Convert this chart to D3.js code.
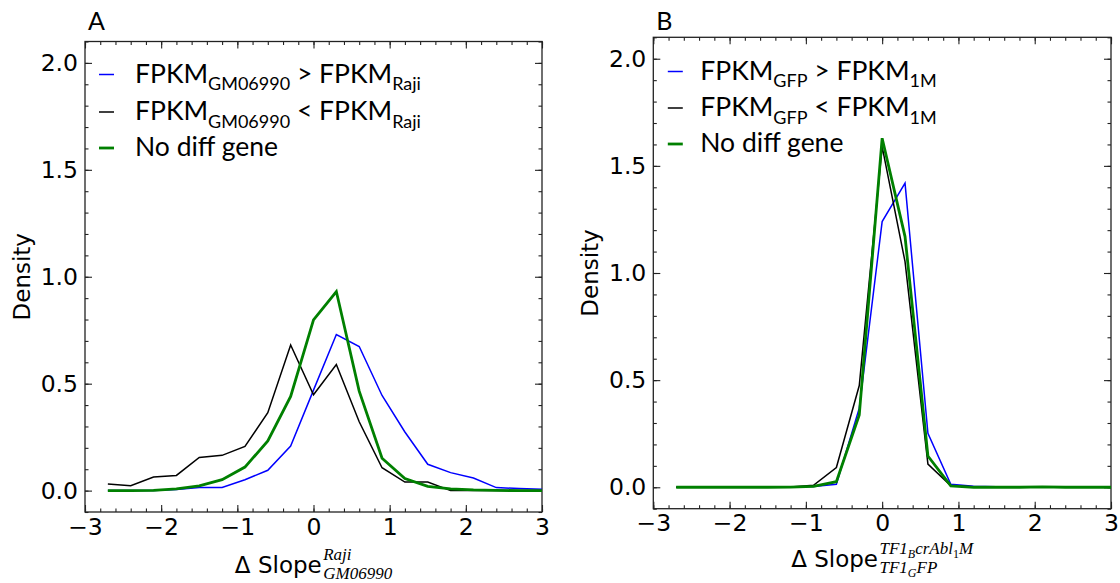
<!DOCTYPE html>
<html>
<head>
<meta charset="utf-8">
<script src="https://cdn.jsdelivr.net/npm/d3@7"></script>
<style>
  body { margin: 0; background: #fff; }
  svg { display: block; }
</style>
</head>
<body>
<svg id="chart" width="1120" height="583"></svg>
<script>
// ---- data: density of slope differences, binned every 0.3 ----
const slopeBins = [-2.7, -2.4, -2.1, -1.8, -1.5, -1.2, -0.9, -0.6, -0.3, 0.0,
                   0.3, 0.6, 0.9, 1.2, 1.5, 1.8, 2.1, 2.4, 2.7, 3.0];

// Panel A: GM06990 vs Raji
const gmHigher = [0.000, 0.000, 0.000, 0.005, 0.015, 0.015, 0.051, 0.095, 0.208, 0.470,
                  0.730, 0.674, 0.445, 0.274, 0.123, 0.084, 0.059, 0.014, 0.010, 0.006];
const gmLower  = [0.031, 0.023, 0.064, 0.071, 0.155, 0.165, 0.207, 0.364, 0.681, 0.448,
                  0.590, 0.322, 0.107, 0.040, 0.040, 0.000, 0.000, 0.000, 0.000, 0.000];
const gmNoDiff = [0.000, 0.000, 0.001, 0.008, 0.022, 0.051, 0.110, 0.232, 0.440, 0.798,
                  0.931, 0.465, 0.151, 0.056, 0.020, 0.008, 0.003, 0.001, 0.000, 0.000];

// Panel B: GFP vs 1M
const gfpHigher = [0.000, 0.000, 0.000, 0.000, 0.000, 0.002, 0.004, 0.014, 0.369, 1.240,
                   1.419, 0.252, 0.014, 0.005, 0.003, 0.002, 0.003, 0.001, 0.001, 0.000];
const gfpLower  = [0.000, 0.000, 0.000, 0.000, 0.000, 0.001, 0.009, 0.092, 0.475, 1.590,
                   1.053, 0.108, 0.007, 0.002, 0.001, 0.000, 0.001, 0.000, 0.000, 0.000];
const gfpNoDiff = [0.000, 0.000, 0.000, 0.000, 0.000, 0.001, 0.004, 0.026, 0.338, 1.629,
                   1.170, 0.146, 0.007, 0.000, 0.000, 0.000, 0.002, 0.000, 0.000, 0.000];

// ---- ticks ----
const xTickValues = [-3, -2, -1, 0, 1, 2, 3];
const xTickLabels = ["\u22123", "\u22122", "\u22121", "0", "1", "2", "3"];
const yTickValues = [0, 0.5, 1.0, 1.5, 2.0];
const yTickLabels = ["0.0", "0.5", "1.0", "1.5", "2.0"];

// ---- legend labels: [main, subscript, relation, subscript] ----
const legendA = [
  ["FPKM", "GM06990", " > FPKM", "Raji"],
  ["FPKM", "GM06990", " < FPKM", "Raji"],
  ["No diff gene"]
];
const legendB = [
  ["FPKM", "GFP", " > FPKM", "1M"],
  ["FPKM", "GFP", " < FPKM", "1M"],
  ["No diff gene"]
];

const seriesColors = ["#0000ff", "#000000", "#008000"];
const seriesWidths = [1.5, 1.5, 2.8];

// ---- layout ----
const panels = [
  {
    tag: "A", left: 85, right: 542, top: 41.5, bottom: 512,
    series: [gmHigher, gmLower, gmNoDiff], legend: legendA,
    legendHandleX: 14, legendTextX: 50, legendBaselines: [82.5, 120, 156],
    xlabelBaseline: 572.5,
    sup: [["Raji", 0]], sub: [["GM06990", 0]]
  },
  {
    tag: "B", left: 653.3, right: 1111, top: 37.3, bottom: 508.7,
    series: [gfpHigher, gfpLower, gfpNoDiff], legend: legendB,
    legendHandleX: 14.5, legendTextX: 47, legendBaselines: [79.5, 116, 152],
    xlabelBaseline: 567,
    sup: [["TF1", 0], ["B", 1], ["crAbl", 0], ["1", 1], ["M", 0]],
    sub: [["TF1", 0], ["G", 1], ["FP", 0]]
  }
];

const svg = d3.select("#chart");
const tickFont = "DejaVu Sans, sans-serif";
const legendFont = "Lato, 'Open Sans', sans-serif";
const mathFont = "'Liberation Serif', 'DejaVu Serif', serif";

panels.forEach(p => {
  const x = d3.scaleLinear().domain([-3, 3]).range([p.left, p.right]);
  const y = d3.scaleLinear().domain([-0.1, 2.1]).range([p.bottom, p.top]);
  const g = svg.append("g");

  const xMinor = d3.range(-3, 3.0001, 0.2).map(v => +v.toFixed(2));
  const yMinor = d3.range(-0.1, 2.1001, 0.1).map(v => +v.toFixed(2));

  // ticks on all four sides, pointing inward
  const addAxis = (axisFn, scale, vals, size, transform, fmt, pad) => {
    const a = axisFn(scale).tickValues(vals).tickSizeInner(-size).tickSizeOuter(0)
      .tickPadding(pad || 3).tickFormat(fmt || (() => ""));
    const ag = g.append("g").attr("transform", transform).call(a);
    ag.select(".domain").remove();
    ag.selectAll(".tick line").attr("stroke", "#222").attr("stroke-width", 1.1);
    return ag;
  };
  addAxis(d3.axisBottom, x, xMinor, 3.5, `translate(0,${p.bottom})`);
  addAxis(d3.axisTop, x, xMinor, 3.5, `translate(0,${p.top})`);
  addAxis(d3.axisLeft, y, yMinor, 3.5, `translate(${p.left},0)`);
  addAxis(d3.axisRight, y, yMinor, 3.5, `translate(${p.right},0)`);

  const xb = addAxis(d3.axisBottom, x, xTickValues, 7, `translate(0,${p.bottom})`,
    (d, i) => xTickLabels[i], 6);
  addAxis(d3.axisTop, x, xTickValues, 7, `translate(0,${p.top})`);
  const yl = addAxis(d3.axisLeft, y, yTickValues, 7, `translate(${p.left},0)`,
    (d, i) => yTickLabels[i], 7);
  addAxis(d3.axisRight, y, yTickValues, 7, `translate(${p.right},0)`);

  [xb, yl].forEach(ag => ag.selectAll(".tick text")
    .attr("font-family", tickFont).attr("font-size", 23.5).attr("fill", "#000"));

  // frame
  g.append("rect")
    .attr("x", p.left).attr("y", p.top)
    .attr("width", p.right - p.left).attr("height", p.bottom - p.top)
    .attr("fill", "none").attr("stroke", "#222").attr("stroke-width", 1.3);

  // density curves
  const line = d3.line().x(d => x(d[0])).y(d => y(d[1]));
  p.series.forEach((vals, k) => {
    g.append("path")
      .datum(slopeBins.map((b, i) => [b, vals[i]]))
      .attr("d", line)
      .attr("fill", "none")
      .attr("stroke", seriesColors[k])
      .attr("stroke-width", seriesWidths[k])
      .attr("stroke-linejoin", "miter");
  });

  // legend: handles, then one text block holding the three rows
  const legText = g.append("text")
    .attr("font-family", legendFont).attr("font-size", 26.5).attr("fill", "#000");
  p.legend.forEach((parts, k) => {
    const base = p.legendBaselines[k];
    g.append("line")
      .attr("x1", p.left + p.legendHandleX).attr("x2", p.left + p.legendHandleX + 15)
      .attr("y1", base - 8).attr("y2", base - 8)
      .attr("stroke", seriesColors[k]).attr("stroke-width", seriesWidths[k]);
    legText.append("tspan")
      .attr("x", p.left + p.legendTextX).attr("y", base).text(parts[0]);
    if (parts.length > 1) {
      legText.append("tspan").attr("dy", 7.5).attr("font-size", 18).text(parts[1]);
      legText.append("tspan").attr("dy", -7.5).text(parts[2]);
      legText.append("tspan").attr("dy", 7.5).attr("font-size", 18).text(parts[3]);
    }
  });

  // panel tag
  svg.append("text")
    .attr("x", p.left + 3).attr("y", 29.5)
    .attr("font-family", legendFont).attr("font-size", 25).attr("fill", "#000")
    .text(p.tag);

  // y label
  svg.append("text")
    .attr("transform", `translate(${p.left - 55},${(p.top + p.bottom) / 2}) rotate(-90)`)
    .attr("text-anchor", "middle")
    .attr("font-family", tickFont).attr("font-size", 23).attr("fill", "#000")
    .text("Density");

  // x label: "Δ Slope" with stacked super/subscripts
  const lab = svg.append("g");
  const main = lab.append("text")
    .attr("x", 0).attr("y", p.xlabelBaseline)
    .attr("font-family", tickFont).attr("font-size", 23).attr("fill", "#000")
    .text("\u0394 Slope");
  const mainW = main.node().getComputedTextLength();
  const scripts = lab.append("text")
    .attr("font-family", mathFont).attr("font-size", 17).attr("fill", "#000");
  const writeScript = (parts, baseY) => {
    let level = 0, first = true, width = 0;
    parts.forEach(([s, lv]) => {
      const span = scripts.append("tspan").text(s);
      if (first) span.attr("x", mainW + 1.5).attr("y", baseY);
      else span.attr("dy", (lv - level) * 3.5);
      if (lv === 1) span.attr("font-size", 12);
      span.attr("font-style", /^[0-9]+$/.test(s) ? "normal" : "italic");
      width += span.node().getComputedTextLength();
      level = lv; first = false;
    });
    return width;
  };
  const supW = writeScript(p.sup, p.xlabelBaseline - 13);
  const subW = writeScript(p.sub, p.xlabelBaseline + 6);
  const total = mainW + 1.5 + Math.max(supW, subW);
  lab.attr("transform", `translate(${(p.left + p.right) / 2 - total / 2},0)`);
});
</script>
</body>
</html>
